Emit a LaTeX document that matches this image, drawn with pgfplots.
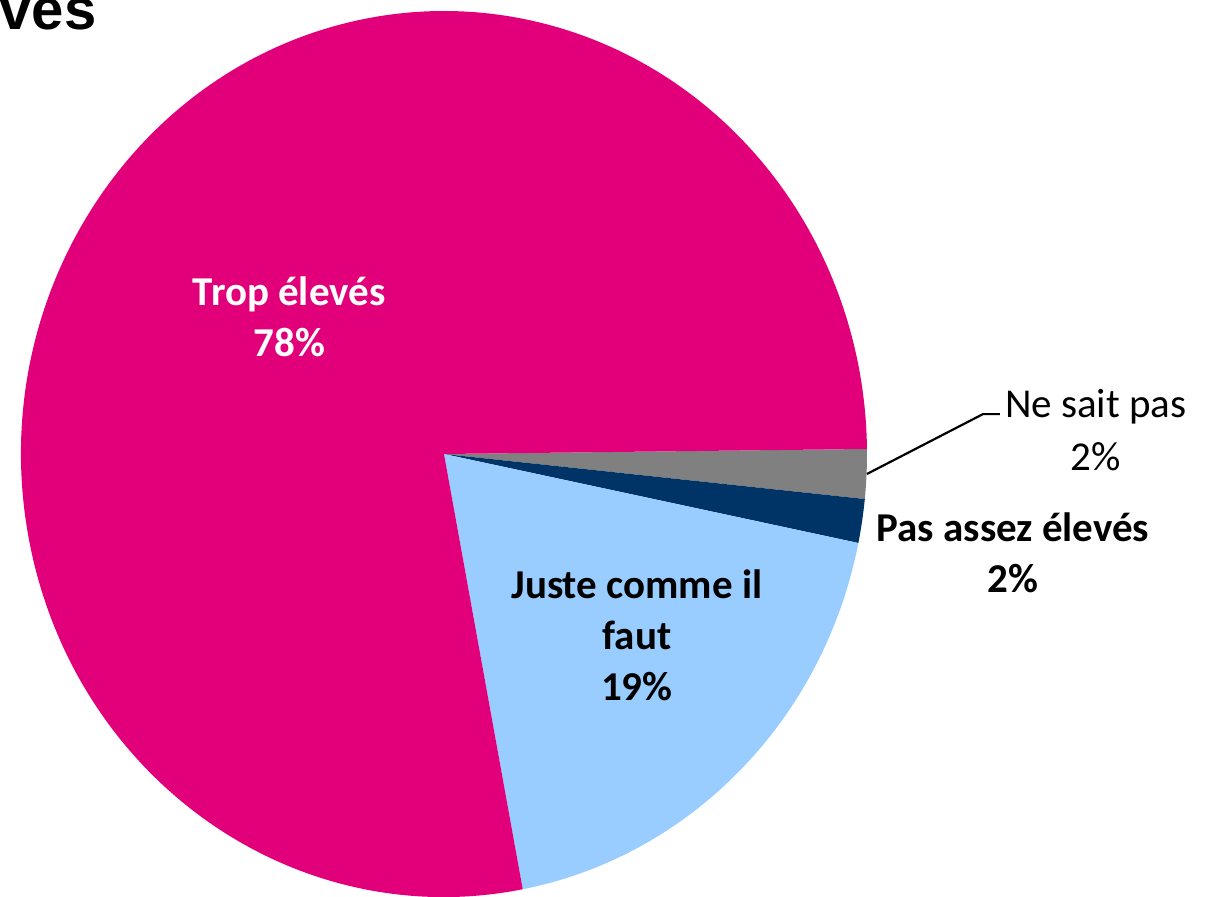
\documentclass[border=0pt]{standalone}
\usepackage{pgfplots}
\usepackage{pgfplotstable}
\pgfplotsset{compat=1.18}
\usepackage{fontspec}
\setmainfont{Carlito}
\newfontfamily\arialfont{Liberation Sans}
\definecolor{cPink}{HTML}{E2007A}
\definecolor{cLight}{HTML}{99CCFF}
\definecolor{cDark}{HTML}{003366}
\definecolor{cGray}{HTML}{808080}

\pgfplotstableread[col sep=comma]{
label,value,color
Ne sait pas,1.8,cGray
Pas assez eleves,1.6,cDark
Juste comme il faut,18.8,cLight
Trop eleves,77.8,cPink
}\piedata

\begin{document}
\begin{tikzpicture}
\begin{axis}[at={(0,0)}, anchor=center, scale only axis,
  width=423pt, height=443pt, xmin=-1, xmax=1, ymin=-1, ymax=1,
  hide axis, clip=false]
\pgfplotstablegetrowsof{\piedata}
\pgfmathtruncatemacro{\nrows}{\pgfplotsretval-1}
\gdef\startangle{0.65}
\pgfplotsforeachungrouped \i in {0,...,\nrows}{%
  \pgfplotstablegetelem{\i}{value}\of{\piedata}\let\val\pgfplotsretval
  \pgfplotstablegetelem{\i}{color}\of{\piedata}\let\col\pgfplotsretval
  \pgfmathsetmacro{\endangle}{\startangle-3.6*\val}%
  \edef\temp{\noexpand\fill[\col] (axis cs:0,0) -- (axis cs:{cos(\startangle)},{sin(\startangle)}) arc[start angle=\startangle, end angle=\endangle, radius=1] -- cycle;}%
  \temp
  \global\let\startangle\endangle
}
\tikzset{lbl/.style={align=center, inner sep=0pt, font=\fontsize{20.5}{25.5}\selectfont\bfseries}}
\node[lbl, text=white] at (axis cs:-0.366,0.31) {Trop élevés\\78\%};
\node[lbl] at (axis cs:0.456,-0.41) {Juste comme il\\faut\\19\%};
\node[lbl] at (axis cs:1.345,-0.223) {Pas assez élevés\\2\%};
\node[align=center, inner sep=0pt, font=\fontsize{20.5}{26.5}\selectfont] at (axis cs:1.541,0.054) {Ne sait pas\\2\%};
\draw[black, line width=1.1pt] (axis cs:1.0,-0.045) -- (axis cs:1.274,0.090) -- (axis cs:1.314,0.090);
\end{axis}
\node[anchor=base east, inner sep=0pt, font=\arialfont\bfseries\fontsize{29}{34}\selectfont] at (-173.5pt,212.5pt) {Des tarifs trop élevés};
\pgfresetboundingbox
\path[use as bounding box] (-222pt,-221pt) rectangle (380.5pt,227pt);
\end{tikzpicture}
\end{document}
